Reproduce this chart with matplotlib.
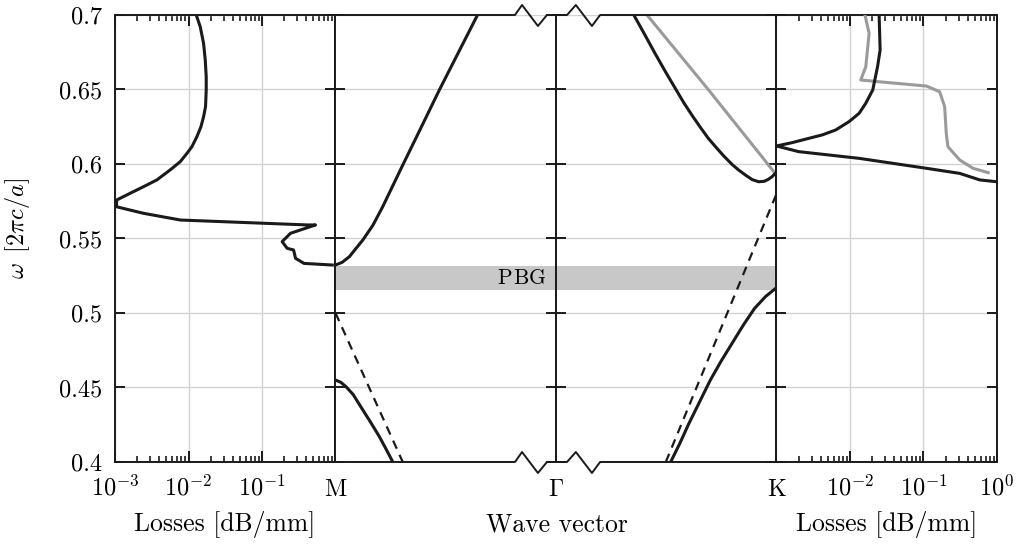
import numpy as np
import matplotlib
matplotlib.use("Agg")
import matplotlib.pyplot as plt

plt.rcParams['font.family'] = 'cmr10'
plt.rcParams['mathtext.fontset'] = 'cm'
plt.rcParams['axes.formatter.use_mathtext'] = True
plt.rcParams['axes.unicode_minus'] = False

# ---------------- data ----------------
# left panel: losses along M side (dB/mm) vs omega
left_omega = [0.700, 0.6921, 0.681, 0.6698, 0.6586, 0.6497, 0.6385, 0.6317, 0.625, 0.6183,
              0.6116, 0.6072, 0.6015, 0.596, 0.5893, 0.5848, 0.5803, 0.5758, 0.5713,
              0.5691, 0.5669, 0.5624, 0.5591, 0.5591, 0.5535, 0.5479, 0.5434,
              0.5423, 0.5367, 0.5333, 0.5322]
left_loss = [0.01274, 0.01445, 0.01603, 0.0169, 0.01742, 0.01742, 0.01706, 0.01603, 0.01476, 0.0130,
             0.01112, 0.00955, 0.0077, 0.00562, 0.00371, 0.00245, 0.0016, 0.00105, 0.00105,
             0.0016, 0.00245, 0.00776, 0.412, 0.535, 0.244, 0.188, 0.220,
             0.269, 0.286, 0.372, 0.904]

# band M-Gamma (k: 0 at M, 1 at Gamma)
mg_up_k = [0.0, 0.03, 0.063, 0.09, 0.124, 0.17, 0.214, 0.305, 0.38, 0.471, 0.644]
mg_up_w = [0.5322, 0.5340, 0.5378, 0.5428, 0.549, 0.559, 0.5713, 0.5993, 0.622, 0.6497, 0.700]
mg_lo_k = [0.0, 0.024, 0.048, 0.08, 0.124, 0.16, 0.199, 0.23, 0.26]
mg_lo_w = [0.455, 0.4535, 0.4505, 0.4453, 0.4349, 0.4265, 0.417, 0.4085, 0.400]
mg_light_k = [0.0, 0.305]
mg_light_w = [0.500, 0.400]

# band Gamma-K (k: 0 at Gamma, 1 at K)
gk_up_k = [0.353, 0.40, 0.45, 0.50, 0.542, 0.58, 0.62, 0.66, 0.692, 0.73, 0.76, 0.80,
           0.828, 0.86, 0.89, 0.919, 0.945, 0.964, 0.98, 1.0]
gk_up_w = [0.700, 0.6875, 0.674, 0.661, 0.6505, 0.641, 0.632, 0.6235, 0.617, 0.6105, 0.6055, 0.5995,
           0.596, 0.5925, 0.5895, 0.5881, 0.5884, 0.5898, 0.5915, 0.5945]
gk_gray_k = [0.413, 0.692, 0.964, 0.994]
gk_gray_w = [0.700, 0.6497, 0.5993, 0.5937]
gk_lo_k = [0.52, 0.56, 0.60, 0.65, 0.70, 0.75, 0.80, 0.85, 0.90, 0.95, 1.0]
gk_lo_w = [0.400, 0.412, 0.425, 0.440, 0.455, 0.468, 0.480, 0.492, 0.503, 0.511, 0.517]
gk_light_k = [0.498, 1.0]
gk_light_w = [0.400, 0.580]

# photonic band gap
pbg = [0.5154, 0.5315]
pbg_letters = ['P', 'B', 'G']

# right panel: losses along K side
right_omega = [0.700, 0.6765, 0.6653, 0.6497, 0.6408, 0.634, 0.6284, 0.6228, 0.6195, 0.6172,
               0.6143, 0.6121, 0.6083, 0.6038, 0.5971, 0.5937, 0.5893, 0.5881]
right_loss = [0.0249, 0.0257, 0.0237, 0.0204, 0.0164, 0.0133, 0.00968, 0.00637, 0.00418, 0.00274,
              0.00162, 0.00100, 0.00200, 0.0133, 0.110, 0.311, 0.585, 0.991]
right_gray_omega = [0.700, 0.6877, 0.6653, 0.6564, 0.6552, 0.6523, 0.6485, 0.6385, 0.6206,
                    0.6116, 0.6027, 0.5971, 0.5942]
right_gray_loss = [0.0160, 0.0182, 0.0164, 0.0140, 0.0249, 0.110, 0.166, 0.194, 0.204,
                   0.215, 0.311, 0.473, 0.759]

yticks = [0.4, 0.45, 0.5, 0.55, 0.6, 0.65, 0.7]
ytick_labels = ['0.4', '0.45', '0.5', '0.55', '0.6', '0.65', '0.7']

# ---------------- figure ----------------
BLACK = '#1a1a1a'
GRAY = '#9a9a9a'
GRID = '#d2d2d2'
FS = 17.5
FSL = 18.5
LW = 2.2
SPW = 1.4

fig = plt.figure(figsize=(10.2, 5.45), dpi=100)
L, R = 115 / 1020, 997 / 1020
B, T = 1 - 462 / 545, 1 - 15 / 545
W = (R - L) / 4
axes = [fig.add_axes([L + i * W, B, W, T - B]) for i in range(4)]

for i, ax in enumerate(axes):
    ax.set_ylim(0.4, 0.7)
    ax.set_yticks(yticks)
    ax.set_yticklabels(ytick_labels if i == 0 else [])
    ax.grid(True, axis='y', color=GRID, lw=1.0, zorder=0)
    ax.tick_params(axis='y', which='both', direction='in', left=True, right=True,
                   length=7.5, width=SPW, labelsize=FS, pad=9, color=BLACK)
    for s in ax.spines.values():
        s.set_linewidth(SPW)
        s.set_color(BLACK)
    ax.set_axisbelow(True)

# log panels
for ax in (axes[0], axes[3]):
    ax.set_xscale('log')
    ax.set_xlim(1e-3, 1e0)
    ax.grid(True, axis='x', which='major', color=GRID, lw=1.0, zorder=0)
    ax.tick_params(axis='x', which='major', direction='in', top=True, bottom=True,
                   length=8, width=SPW, labelsize=FS, pad=9, color=BLACK)
    ax.tick_params(axis='x', which='minor', direction='in', top=True, bottom=True,
                   length=4.5, width=1.2, color=BLACK)

axes[0].set_xticks([1e-3, 1e-2, 1e-1, 1e0])
axes[0].set_xticklabels([r'$10^{-3}$', r'$10^{-2}$', r'$10^{-1}$', ''])
axes[3].set_xticks([1e-3, 1e-2, 1e-1, 1e0])
axes[3].set_xticklabels(['', r'$10^{-2}$', r'$10^{-1}$', r'$10^{0}$'])

axes[0].plot(left_loss, left_omega, color=BLACK, lw=LW, solid_joinstyle='round', zorder=3)
axes[3].plot(right_gray_loss, right_gray_omega, color=GRAY, lw=LW, solid_joinstyle='round', zorder=3)
axes[3].plot(right_loss, right_omega, color=BLACK, lw=LW, solid_joinstyle='round', zorder=3)

# band panels
for ax in (axes[1], axes[2]):
    ax.set_xlim(0, 1)
    ax.spines['top'].set_visible(False)
    ax.spines['bottom'].set_visible(False)
    ax.tick_params(axis='x', length=0, labelsize=FS, pad=12)
    ax.axhspan(pbg[0], pbg[1], color='#c8c8c8', lw=0, zorder=1)

axes[1].set_xticks([0, 1])
axes[1].set_xticklabels([r'$\mathrm{M}$', r'$\Gamma$'])
axes[2].set_xticks([1])
axes[2].set_xticklabels([r'$\mathrm{K}$'])

axes[1].plot(mg_up_k, mg_up_w, color=BLACK, lw=LW, solid_joinstyle='round', zorder=3)
axes[1].plot(mg_lo_k, mg_lo_w, color=BLACK, lw=LW, solid_joinstyle='round', zorder=3)
axes[1].plot(mg_light_k, mg_light_w, color=BLACK, lw=1.6, ls=(0, (4, 3)), zorder=3)
axes[2].plot(gk_gray_k, gk_gray_w, color=GRAY, lw=LW, zorder=3)
axes[2].plot(gk_up_k, gk_up_w, color=BLACK, lw=LW, solid_joinstyle='round', zorder=3)
axes[2].plot(gk_lo_k, gk_lo_w, color=BLACK, lw=LW, solid_joinstyle='round', zorder=3)
axes[2].plot(gk_light_k, gk_light_w, color=BLACK, lw=1.6, ls=(0, (4, 3)), zorder=3)

# "PBG" label, letter-spaced
tr = axes[1].get_yaxis_transform()
for j, ch in enumerate(pbg_letters):
    axes[1].annotate(ch, xy=(0.84, (pbg[0] + pbg[1]) / 2), xycoords=tr,
                     xytext=((j - 1) * 16, 0), textcoords='offset pixels',
                     ha='center', va='center', fontsize=15.5, zorder=4)

# broken-axis zigzags on top/bottom frame
up, dn = 10 / 447, 11 / 447
zig2_x = [0, 0.814, 0.846, 0.918, 0.959, 1.0]
zig3_x = [0, 0.05, 0.09, 0.163, 0.2, 1.0]
for ax, xs in ((axes[1], zig2_x), (axes[2], zig3_x)):
    ax.plot(xs, [1, 1, 1 + up, 1 - dn, 1, 1], color=BLACK, lw=SPW,
            transform=ax.transAxes, clip_on=False, zorder=5)
    ax.plot(xs, [0, 0, up, -dn, 0, 0], color=BLACK, lw=SPW,
            transform=ax.transAxes, clip_on=False, zorder=5)

# labels
fig.text(225 / 1020, 1 - 525 / 545, 'Losses [dB/mm]', ha='center', va='center', fontsize=FSL)
fig.text(557 / 1020, 1 - 525 / 545, 'Wave vector', ha='center', va='center', fontsize=FSL)
fig.text(887 / 1020, 1 - 525 / 545, 'Losses [dB/mm]', ha='center', va='center', fontsize=FSL)
fig.text(18 / 1020, 1 - 228 / 545, r'$\omega\;\;[2\pi c/a]$', ha='center', va='center',
         rotation=90, fontsize=17.5)

fig.savefig('out.png', dpi=100)
